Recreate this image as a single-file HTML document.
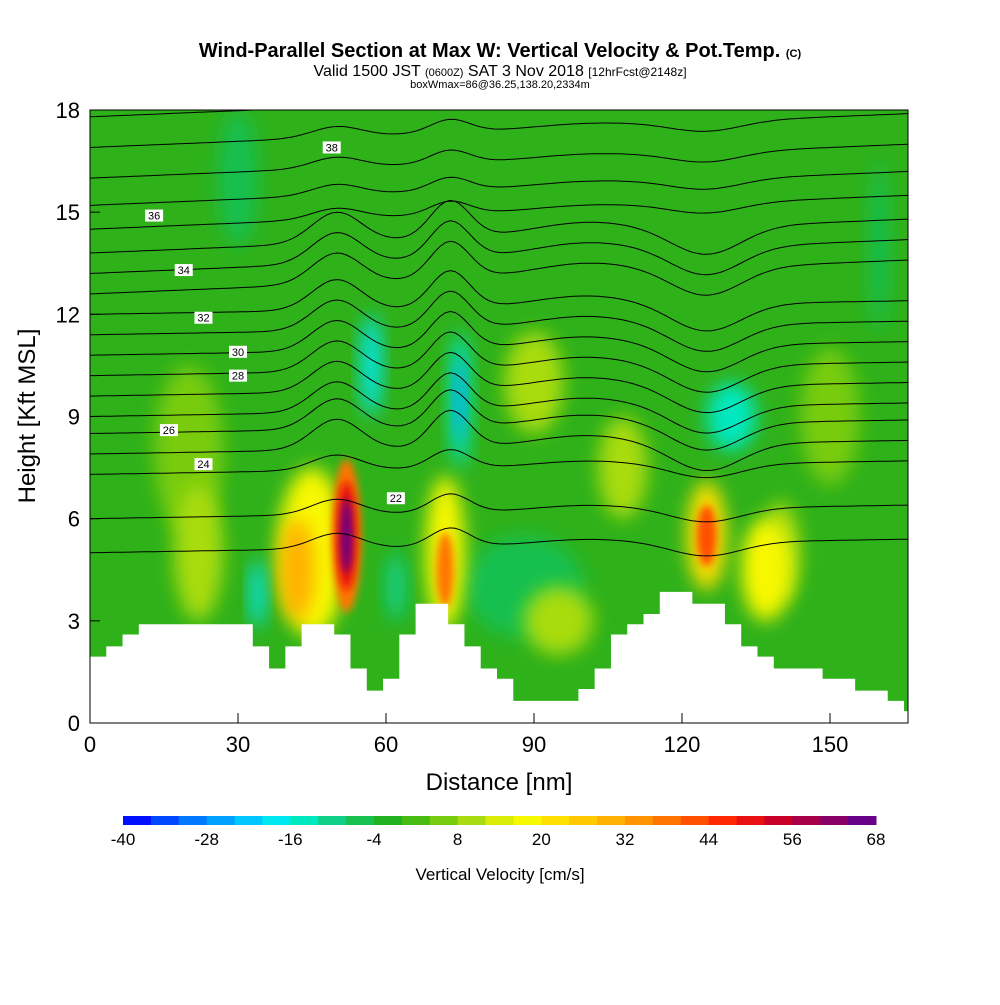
<!DOCTYPE html>
<html><head><meta charset="utf-8">
<style>
body{margin:0;background:#fff;width:1000px;height:1000px;overflow:hidden;font-family:"Liberation Sans",sans-serif}
</style></head>
<body>
<svg id="chart" width="1000" height="1000" xmlns="http://www.w3.org/2000/svg" font-family="Liberation Sans, sans-serif">
<defs>
<clipPath id="plotclip"><rect x="90" y="110" width="818" height="613"/></clipPath>
<filter id="blur" x="-50%" y="-50%" width="200%" height="200%"><feGaussianBlur stdDeviation="9"/></filter>
<filter id="blur2" x="-50%" y="-50%" width="200%" height="200%"><feGaussianBlur stdDeviation="4"/></filter>
</defs>
<text x="500" y="57" text-anchor="middle" font-size="20" font-weight="bold">Wind-Parallel Section at Max W: Vertical Velocity &amp; Pot.Temp. <tspan font-size="11">(C)</tspan></text>
<text x="500" y="76" text-anchor="middle" font-size="16">Valid 1500 JST <tspan font-size="11">(0600Z)</tspan> SAT 3 Nov 2018 <tspan font-size="12">[12hrFcst@2148z]</tspan></text>
<text x="500" y="88" text-anchor="middle" font-size="11">boxWmax=86@36.25,138.20,2334m</text>
<g id="plot" clip-path="url(#plotclip)"></g>
<g id="axes"></g>
<g id="colorbar"></g>
<text x="499" y="790" text-anchor="middle" font-size="24">Distance [nm]</text>
<text transform="translate(35,416) rotate(-90)" text-anchor="middle" font-size="24">Height [Kft MSL]</text>
<text x="500" y="880" text-anchor="middle" font-size="17">Vertical Velocity [cm/s]</text>
</svg>
<script>
const NS="http://www.w3.org/2000/svg";
const xTicks=[0,30,60,90,120,150];
const yTicks=[0,3,6,9,12,15,18];
const terrainStepNm=3.3;
const terrain=[1.95,2.25,2.6,2.9,2.9,2.9,2.9,2.9,2.9,2.9,2.25,1.6,2.25,2.9,2.9,2.6,1.6,0.95,1.3,2.6,3.5,3.5,2.9,2.25,1.6,1.3,0.65,0.65,0.65,0.65,1.0,1.6,2.6,2.9,3.2,3.85,3.85,3.5,3.5,2.9,2.25,1.95,1.6,1.6,1.6,1.3,1.3,0.95,0.95,0.65,0.35];
// vertical velocity features: centre distance (nm), centre height (kft), width (nm), vertical extent (kft), value (cm/s)
const wX=[20,90,108,150,30,160,88,95,22,45,42,52,52,52,72,72,125,125,137,34,57,75,75,130,140,62];
const wY=[8,10,7.5,9,16,14,4,3,5,5,4.5,5.5,5.5,5.5,5,4.5,5.5,5.5,4.5,3.8,10.5,9.5,9.5,9,5,4];
const wW=[14,12,10,12,8,4,24,14,10,14,7,6,4,2.2,8,3.5,8,4,10,3,4,4,2,10,8,4];
const wH=[5,3,3,4,4,5,3,2,4,5,3,4.5,3.2,2.2,4.5,2.2,3.2,1.8,3,2,3,4,2.5,2,3,2];
const wV=[6,8,8,6,-6,-6,-8,8,8,16,28,36,50,66,18,36,20,40,18,-18,-18,-14,-28,-16,10,-10];
const thLevels=[22,23,24,25,26,27,28,29,30,31,32,33,34,35,36,37,38,39,40];
const thBase=[5.0,6.0,7.3,7.9,8.5,9.0,9.6,10.2,10.8,11.4,12.0,12.6,13.2,13.8,14.5,15.2,16.0,16.9,17.8];
const thLabel=[[62,6.6],[23,7.6],[16,8.6],[30,10.2],[30,10.9],[23,11.9],[19,13.3],[13,14.9],[49,16.9]];

const X=d=>90+d*148/30, Y=h=>723-h*613/18;
const plot=document.getElementById('plot'), axes=document.getElementById('axes'), cb=document.getElementById('colorbar');
function mk(t,a,p){const e=document.createElementNS(NS,t);for(const k in a)e.setAttribute(k,a[k]);p.appendChild(e);return e;}
const cbColors=["#0010ff","#0048ff","#0078ff","#00a0ff","#00c8ff","#00e8f0","#00e8c0","#10d088","#18c050","#20b020","#48bc10","#78cc10","#a8dc10","#d8ec08","#f8f800","#ffe000","#ffc800","#ffb000","#ff9400","#ff7400","#ff5000","#ff2800","#e81010","#c80028","#a80048","#880068","#680088"];
function colorFor(v){let i=Math.floor((v+40)/4);i=Math.max(0,Math.min(26,i));return cbColors[i];}

const bg=mk('rect',{x:90,y:110,width:818,height:613,fill:"#2fb11a"},plot);


const order=wV.map((v,i)=>i).sort((a,b)=>Math.abs(wV[a])-Math.abs(wV[b]));
for(const i of order){
 const e=mk('ellipse',{cx:X(wX[i]),cy:Y(wY[i]),rx:wW[i]*148/30/2,ry:wH[i]*613/18/2,fill:colorFor(wV[i]),filter:Math.abs(wV[i])>30?"url(#blur2)":"url(#blur)"},plot);
 
 
}
const bumps=[[50,0.9,5],[73,1.1,4],[125,-0.8,7],[100,0.3,10]];
thLevels.forEach((lv,k)=>{
 let d="";
 const amp=k<3?0.5:(k>13?0.35:1);
 for(let n=0;n<=166;n+=1){
  let h=thBase[k]+n*0.006*(k>10?1:0.4);
  for(const b of bumps){const f=Math.exp(-((n-b[0])**2)/(2*b[2]*b[2]));h+=b[1]*f*amp;}
  d+=(n?"L":"M")+X(n).toFixed(1)+","+Y(h).toFixed(1);
 }
 const p=mk('path',{d,fill:"none",stroke:"#000","stroke-width":1},plot);
 
 
});
thLabel.forEach((l,i)=>{
 const t=String(22+i*2);
 const g=mk('g',{},plot);
 
 
 mk('rect',{x:X(l[0])-9,y:Y(l[1])-6,width:18,height:12,fill:"#fff"},g);
 const tx=mk('text',{x:X(l[0]),y:Y(l[1])+4,"text-anchor":"middle","font-size":11},g);tx.textContent=t;
});
let td="M"+X(0)+","+Y(0);
terrain.forEach((h,i)=>{td+="L"+X(i*terrainStepNm)+","+Y(h)+"L"+X((i+1)*terrainStepNm)+","+Y(h);});
td+="L"+X(170)+","+Y(0)+"Z";
const ter=mk('path',{d:td,fill:"#fff",stroke:"none"},plot);


const fr=mk('rect',{x:90,y:110,width:818,height:613,fill:"none",stroke:"#000","stroke-width":1},axes);


xTicks.forEach(v=>{
 mk('line',{x1:X(v),x2:X(v),y1:723,y2:713,stroke:"#000"},axes);
 const t=mk('text',{x:X(v),y:752,"text-anchor":"middle","font-size":22},axes);t.textContent=v;
 
 
});
yTicks.forEach(v=>{
 mk('line',{x1:90,x2:100,y1:Y(v),y2:Y(v),stroke:"#000"},axes);
 const t=mk('text',{x:80,y:Y(v)+8,"text-anchor":"end","font-size":22},axes);t.textContent=v;
 
 
});
const cw=(876-123)/27;
cbColors.forEach((c,i)=>{
 const r=mk('rect',{x:123+i*cw,y:816,width:cw+0.5,height:9,fill:c},cb);
 
 
});
for(let v=-40;v<=68;v+=12){
 const t=mk('text',{x:123+(v+40)/4*cw,y:845,"text-anchor":"middle","font-size":17},cb);t.textContent=v;
 
 
}
</script>
</body></html>
